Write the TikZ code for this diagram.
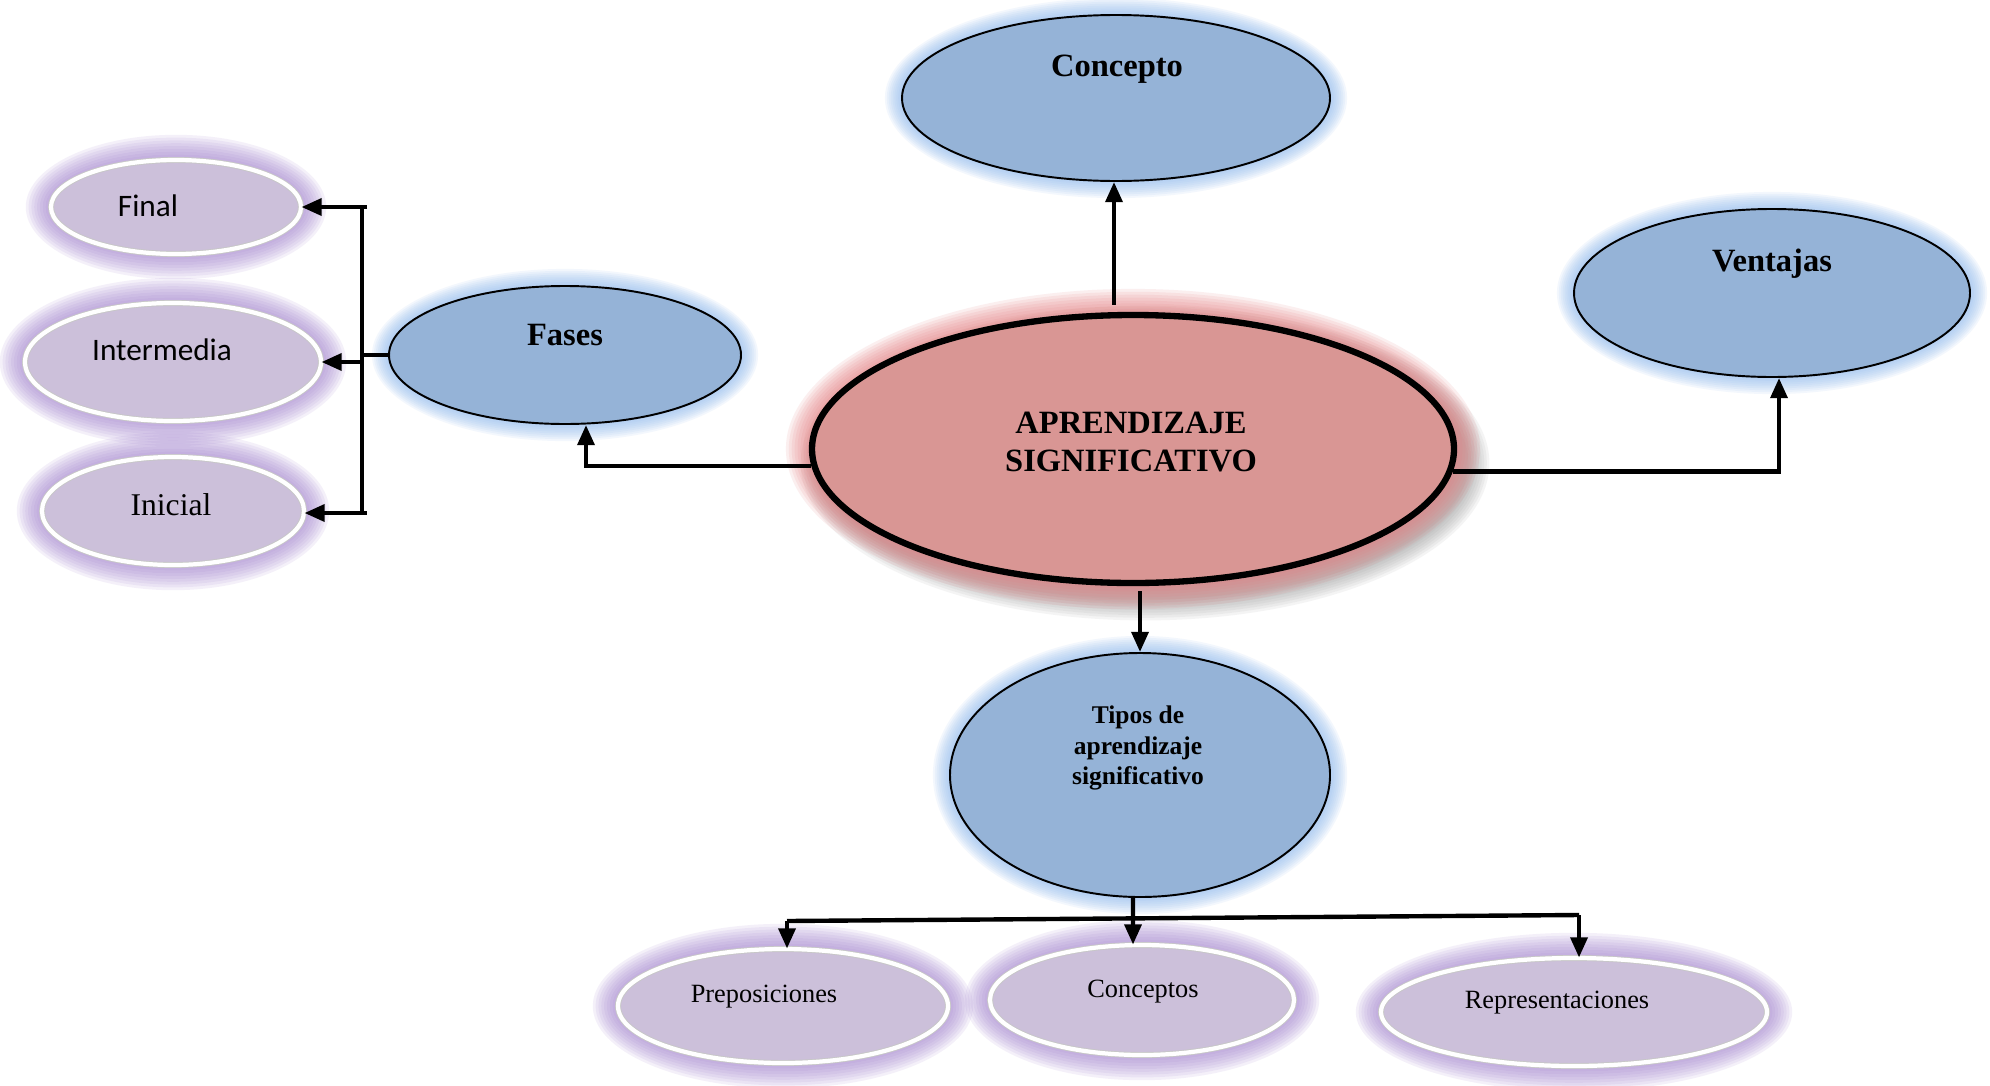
\documentclass[tikz,border=0pt]{standalone}
\usepackage{fontspec}
\setmainfont{Liberation Serif}
\newfontfamily\calibfont{Carlito}
\usetikzlibrary{shapes.geometric,arrows.meta}
\definecolor{blueF}{HTML}{95B3D7}
\definecolor{blueG}{HTML}{8CB8EE}
\definecolor{redF}{HTML}{D99694}
\definecolor{redG}{HTML}{E57E80}
\definecolor{purF}{HTML}{CCC0DA}
\definecolor{purG}{HTML}{A88BD2}
\newcommand\glowell[7]{% x y rx ry color step opacity
  \foreach \k in {1,...,9}{\fill[#5,opacity=#7] (#1,#2) ellipse [x radius={#3+#6*\k}, y radius={#4+#6*\k}];}}
\begin{document}
\begin{tikzpicture}[x=0.02cm,y=-0.02cm,
  ell/.style n args={2}{ellipse, minimum width={#1*0.02cm}, minimum height={#2*0.02cm}, inner sep=0pt},
  bluenode/.style={fill=blueF, draw=black, line width=1.1pt},
  rednode/.style={fill=redF, draw=black, line width=3.6pt},
  purnode/.style={fill=purF, draw=black!22, line width=0.5pt, double=white, double distance=2.4pt},
  conn/.style={line width=2.5pt, draw=black},
  arr/.style={conn, -{Triangle[length=11.5pt,width=9.5pt]}},
  bigbold/.style={inner sep=0pt, align=center, font=\fontsize{18.5pt}{22pt}\selectfont\bfseries},
  midbold/.style={inner sep=0pt, align=center, font=\fontsize{14.5pt}{17.6pt}\selectfont\bfseries},
  serlab/.style={inner sep=0pt, font=\fontsize{15pt}{18pt}\selectfont},
  callab/.style={inner sep=0pt, font=\fontsize{17.8pt}{21pt}\selectfont\calibfont},
  inilab/.style={inner sep=0pt, font=\fontsize{18pt}{21pt}\selectfont}]
\useasboundingbox (0,0) rectangle (1990,1085);
\fill[white] (0,0) rectangle (1990,1085);

% glows
\glowell{1145}{463}{321}{134}{black!45}{2.6}{0.09}
\glowell{1133}{449}{321}{134}{redG}{2.9}{0.12}
\glowell{1116}{98}{214}{83}{blueG}{1.9}{0.1}
\glowell{1772}{293}{198}{84}{blueG}{1.9}{0.1}
\glowell{565}{355}{176}{69}{blueG}{1.9}{0.1}
\glowell{1140}{775}{190}{122}{blueG}{1.9}{0.1}
\glowell{176}{207}{125}{47}{purG}{2.8}{0.12}
\glowell{173}{362}{148}{59}{purG}{2.8}{0.12}
\glowell{173}{511}{131}{54}{purG}{2.8}{0.12}
\glowell{783}{1006}{165}{57}{purG}{2.8}{0.12}
\glowell{1142}{1000}{152}{55}{purG}{2.8}{0.12}
\glowell{1574}{1012}{193}{54}{purG}{2.8}{0.12}

% main nodes
\node[ell={642}{268}, rednode] (cen) at (1133,449) {};
\node[ell={428}{166}, bluenode] (conc) at (1116,98) {};
\node[ell={396}{168}, bluenode] (vent) at (1772,293) {};
\node[ell={352}{138}, bluenode] (fases) at (565,355) {};
\node[ell={380}{244}, bluenode] (tipos) at (1140,775) {};
\node[ell={250}{94}, purnode] (final) at (176,207) {};
\node[ell={296}{118}, purnode] (inter) at (173,362) {};
\node[ell={262}{108}, purnode] (inic) at (173,511) {};
\node[ell={330}{114}, purnode] (prep) at (783,1006) {};
\node[ell={304}{110}, purnode] (concs) at (1142,1000) {};
\node[ell={386}{108}, purnode] (repr) at (1574,1012) {};

% labels
\node[bigbold] (cenT) at (1131,442) {APRENDIZAJE\\SIGNIFICATIVO};
\node[bigbold] (concT) at (1117,69) {Concepto};
\node[bigbold] (ventT) at (1772,264) {Ventajas};
\node[bigbold] (fasesT) at (565,335) {Fases};
\node[midbold] (tiposT) at (1138,748) {Tipos de\\aprendizaje\\significativo};
\node[callab] (finalT) at (148,206) {Final};
\node[callab] (interT) at (162,350) {Intermedia};
\node[inilab] (inicT) at (171,505) {Inicial};
\node[serlab] (prepT) at (764,997) {Preposiciones};
\node[serlab] (concsT) at (1143,992) {Conceptos};
\node[serlab] (reprT) at (1557,1003) {Representaciones};

% connectors from centre
\draw[arr] ([xshift=-0.04cm,yshift=0.14cm]conc.south |- cen.north) -- ([xshift=-0.04cm]conc.south);
\draw[arr] (cen.183) -| ([xshift=0.42cm]fases.south);
\draw[arr] (cen.-4) -| ([xshift=0.14cm]vent.south);
\draw[arr] ([yshift=-0.1cm]tipos.north |- cen.south) -- (tipos.north);

% Fases branches
\coordinate (barT) at (362,207);
\coordinate (barB) at (362,513);
\draw[conn] ([xshift=0.1cm]barT) -- (barT) -- (barB) -- ([xshift=0.1cm]barB);
\draw[conn] (fases.west) -- (fases.west -| barT);
\draw[arr] (barT) -- (barT -| final.east);
\draw[arr] (barT |- inter.east) -- (inter.east);
\draw[arr] (barB) -- (barB -| inic.east);

% Tipos branches
\coordinate (bL) at (787,921);
\coordinate (bR) at (1579,915);
\draw[conn] (bL) -- (bR);
\draw[arr] ([xshift=-0.14cm]tipos.south) -- ([xshift=-0.18cm]concs.north);
\draw[arr] (bL) -- (bL |- prep.north);
\draw[arr] (bR) -- (bR |- repr.north);
\end{tikzpicture}
\end{document}
